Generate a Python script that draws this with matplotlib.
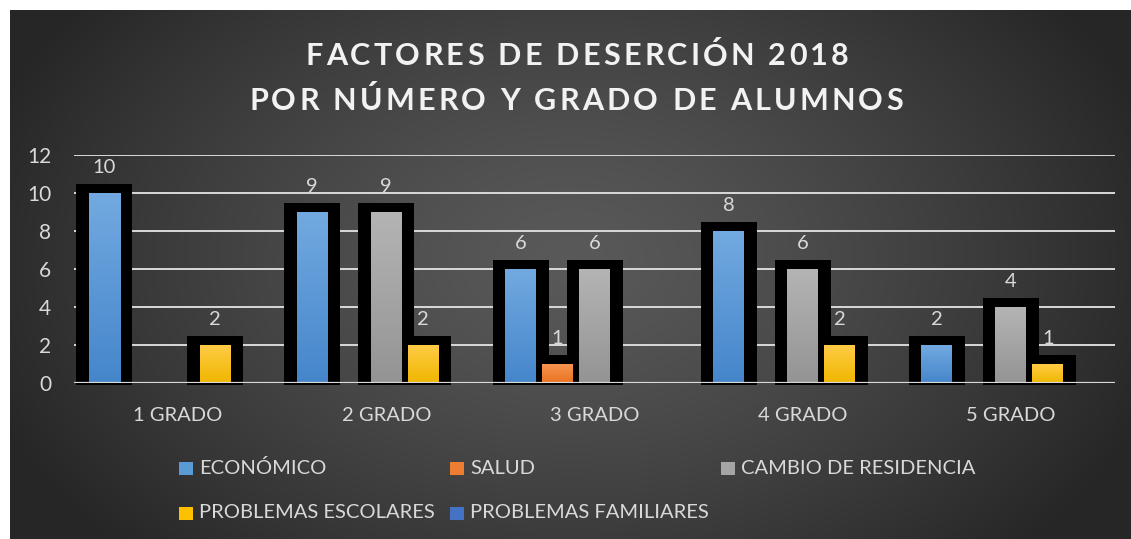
"""
Factores de desercion 2018 - barras agrupadas estilo Excel.
"""

import numpy as np
import matplotlib
matplotlib.use("Agg")
from matplotlib import pyplot as plt
from matplotlib.colors import LinearSegmentedColormap
from matplotlib.patches import Rectangle

grados = ["1 GRADO", "2 GRADO", "3 GRADO", "4 GRADO", "5 GRADO"]
series = ["ECONÓMICO", "SALUD", "CAMBIO DE RESIDENCIA",
          "PROBLEMAS ESCOLARES", "PROBLEMAS FAMILIARES"]

economico = [10, 9, 6, 8, 2]
salud = [0, 0, 1, 0, 0]
cambio_residencia = [0, 9, 6, 6, 4]
problemas_escolares = [2, 2, 0, 2, 1]
problemas_familiares = [0, 0, 0, 0, 0]

valores = [economico, salud, cambio_residencia,
           problemas_escolares, problemas_familiares]

titulo = ["FACTORES DE DESERCIÓN 2018", "POR NÚMERO Y GRADO DE ALUMNOS"]

# (arriba, abajo) del degradado de cada serie, y color de leyenda
degradados = [("#72a9e0", "#4586cb"),
              ("#f5944f", "#eb7220"),
              ("#b4b4b4", "#949494"),
              ("#ffcb45", "#efb700"),
              ("#6e95d8", "#3c68b8")]
colores_leyenda = ["#5b9bd5", "#ed7d31", "#a5a5a5", "#ffc000", "#4472c4"]

texto = "#d9d9d9"
plt.rcParams["font.family"] = ["Lato", "DejaVu Sans"]

W, H = 1131, 539
fig = plt.figure(figsize=(W / 100, H / 100), dpi=100, facecolor="white")
renderer = fig.canvas.get_renderer()


def texto_espaciado(s, xc, yc, tracking, **kw):
    """Escribe s centrado en (xc, yc) px con espacio extra entre letras."""
    anchos = []
    for ch in s:
        t = fig.text(0, 0, ch if ch != " " else "n", **kw)
        w = t.get_window_extent(renderer).width
        if ch == " ":
            w *= 0.45
        anchos.append(w)
        t.remove()
    total = sum(anchos) + tracking * (len(s) - 1)
    xpos = xc - total / 2
    for ch, w in zip(s, anchos):
        if ch != " ":
            fig.text(xpos / W, 1 - yc / H, ch, ha="left", va="center", **kw)
        xpos += w + tracking


# fondo con degradado radial
bg = fig.add_axes([10 / W, 0, (W - 10) / W, (H - 10) / H])
yy, xx = np.mgrid[0:529, 0:1121]
r = np.sqrt(((xx - 560) / 620.0) ** 2 + ((yy - 250) / 420.0) ** 2)
r = np.clip(r, 0, 1)
shade = 0.35 - 0.20 * r ** 1.3
bg.imshow(np.dstack([shade] * 3), aspect="auto", interpolation="bilinear")
bg.axis("off")

ax = fig.add_axes([74 / W, 1 - 383 / H, (1115 - 74) / W, 228 / H])
ax.patch.set_alpha(0)
ax.set_xlim(-0.5, 4.5)
ax.set_ylim(0, 12)

px_x = 1041 / 5.0          # pixeles por categoria
px_y = 228 / 12.0          # pixeles por unidad
paso = 37 / px_x
ancho_borde = 56 / px_x
ancho_fill = 31 / px_x
borde_sup = 9 / px_y
borde_inf = 2 / px_y

x = np.arange(len(grados))
n = len(series)
offs = (np.arange(n) - (n - 1) / 2) * paso

# primero todos los bordes negros, luego los rellenos
for k, vals in enumerate(valores):
    v = np.array(vals, dtype=float)
    m = v > 0
    ax.bar(x[m] + offs[k], v[m] + borde_sup + borde_inf, ancho_borde,
           bottom=-borde_inf, color="black", zorder=2, clip_on=False)

for k, vals in enumerate(valores):
    v = np.array(vals, dtype=float)
    m = v > 0
    cmap = LinearSegmentedColormap.from_list("g%d" % k,
                                             [degradados[k][1],
                                              degradados[k][0]])
    bars = ax.bar(x[m] + offs[k], v[m], ancho_fill, color="none",
                  zorder=3)
    for b in bars:
        x0, w, h = b.get_x(), b.get_width(), b.get_height()
        im = ax.imshow(np.linspace(0, 1, 64).reshape(-1, 1), cmap=cmap,
                       origin="lower", aspect="auto",
                       extent=[x0, x0 + w, 0, h], zorder=3)
        im.set_clip_path(b)
    for xi, vi in zip(x[m] + offs[k], v[m]):
        ax.annotate("%d" % vi, (xi, vi), xytext=(0, 12),
                    textcoords="offset points", ha="center", va="bottom",
                    color=texto, fontsize=14.5, zorder=6)

ax.set_xlim(-0.5, 4.5)
ax.set_ylim(0, 12)

ax.set_yticks(range(0, 13, 2))
ax.grid(axis="y", color="#d9d9d9", linewidth=1.4, zorder=1)
ax.set_axisbelow(True)
ax.axhline(0, color="#d9d9d9", linewidth=1.6, zorder=5)
ax.set_xticks(x)
ax.set_xticklabels(grados)
ax.tick_params(length=0, colors=texto, labelsize=14.5)
ax.tick_params(axis="y", pad=16.5, labelsize=15)
ax.tick_params(axis="x", pad=17)
for s in ax.spines.values():
    s.set_visible(False)

# titulo
texto_espaciado(titulo[0], 577, 56, 3.2, fontsize=22, fontweight="bold",
                color="#f2f2f2")
texto_espaciado(titulo[1], 576, 101, 3.2, fontsize=22, fontweight="bold",
                color="#f2f2f2")

# leyenda
pos_leyenda = [(179, 468), (450, 468), (721, 468), (179, 513), (450, 513)]
for (lx, ly), nombre, col in zip(pos_leyenda, series, colores_leyenda):
    fig.patches.append(Rectangle((lx / W, 1 - (ly + 6.5) / H), 14 / W,
                                 13 / H, transform=fig.transFigure,
                                 facecolor=col, edgecolor="none"))
    fig.text((lx + 20) / W, 1 - ly / H, nombre, ha="left", va="center",
             fontsize=14.5, color=texto)

fig.savefig("out.png", dpi=100, facecolor="white")
